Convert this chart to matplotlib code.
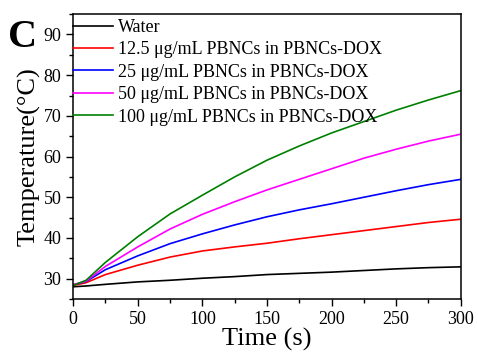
import matplotlib
matplotlib.use("Agg")
import matplotlib.pyplot as plt
from matplotlib.ticker import MultipleLocator

plt.rcParams["font.family"] = ["Liberation Serif", "DejaVu Serif"]

# time points (s)
time_s = [0, 10, 25, 50, 75, 100, 125, 150, 175, 200, 225, 250, 275, 300]

# temperatures (°C)
water = [28.0, 28.2, 28.6, 29.2, 29.6, 30.1, 30.5, 31.0, 31.3, 31.6, 32.0, 32.4, 32.7, 32.9]
pbnc_12_5 = [28.3, 29.0, 31.0, 33.3, 35.3, 36.8, 37.8, 38.7, 39.8, 40.8, 41.8, 42.8, 43.8, 44.6]
pbnc_25 = [28.5, 29.3, 32.2, 35.6, 38.6, 41.0, 43.2, 45.2, 46.9, 48.4, 50.0, 51.6, 53.1, 54.4]
pbnc_50 = [28.5, 29.4, 33.0, 37.8, 42.2, 45.8, 48.9, 51.8, 54.4, 57.0, 59.6, 61.8, 63.8, 65.5]
pbnc_100 = [28.3, 29.6, 34.0, 40.3, 45.9, 50.5, 55.0, 59.1, 62.6, 65.8, 68.6, 71.4, 73.9, 76.2]

series = [
    ("Water", water, "black"),
    ("12.5 μg/mL PBNCs in PBNCs-DOX", pbnc_12_5, "red"),
    ("25 μg/mL PBNCs in PBNCs-DOX", pbnc_25, "blue"),
    ("50 μg/mL PBNCs in PBNCs-DOX", pbnc_50, "magenta"),
    ("100 μg/mL PBNCs in PBNCs-DOX", pbnc_100, "green"),
]

fig = plt.figure(figsize=(4.78, 3.53), dpi=100)
ax = fig.add_axes([0.153, 0.153, 0.811, 0.807])

for label, temps, color in series:
    ax.plot(time_s, temps, color=color, lw=1.2, label=label)

ax.set_xlim(0, 300)
ax.set_ylim(25, 95)
ax.xaxis.set_major_locator(MultipleLocator(50))
ax.xaxis.set_minor_locator(MultipleLocator(25))
ax.yaxis.set_major_locator(MultipleLocator(10))
ax.yaxis.set_minor_locator(MultipleLocator(5))
ax.tick_params(which="both", direction="out", top=False, right=False, labelsize=13)
ax.tick_params(which="major", length=5, width=1)
ax.tick_params(which="minor", length=3, width=1)
for sp in ax.spines.values():
    sp.set_linewidth(1.1)

ax.set_xlabel("Time (s)", fontsize=19, labelpad=0)
ax.set_ylabel("Temperature(°C)", fontsize=19, labelpad=2)

ax.legend(loc="upper left", bbox_to_anchor=(0.0, 0.983), borderaxespad=0,
          frameon=False, fontsize=13, handlelength=2.2, handletextpad=0.3,
          labelspacing=0.3, borderpad=0)

fig.text(0.048, 0.895, "C", fontsize=29, fontweight="bold", ha="center", va="center")

fig.savefig("out.png", dpi=100)
